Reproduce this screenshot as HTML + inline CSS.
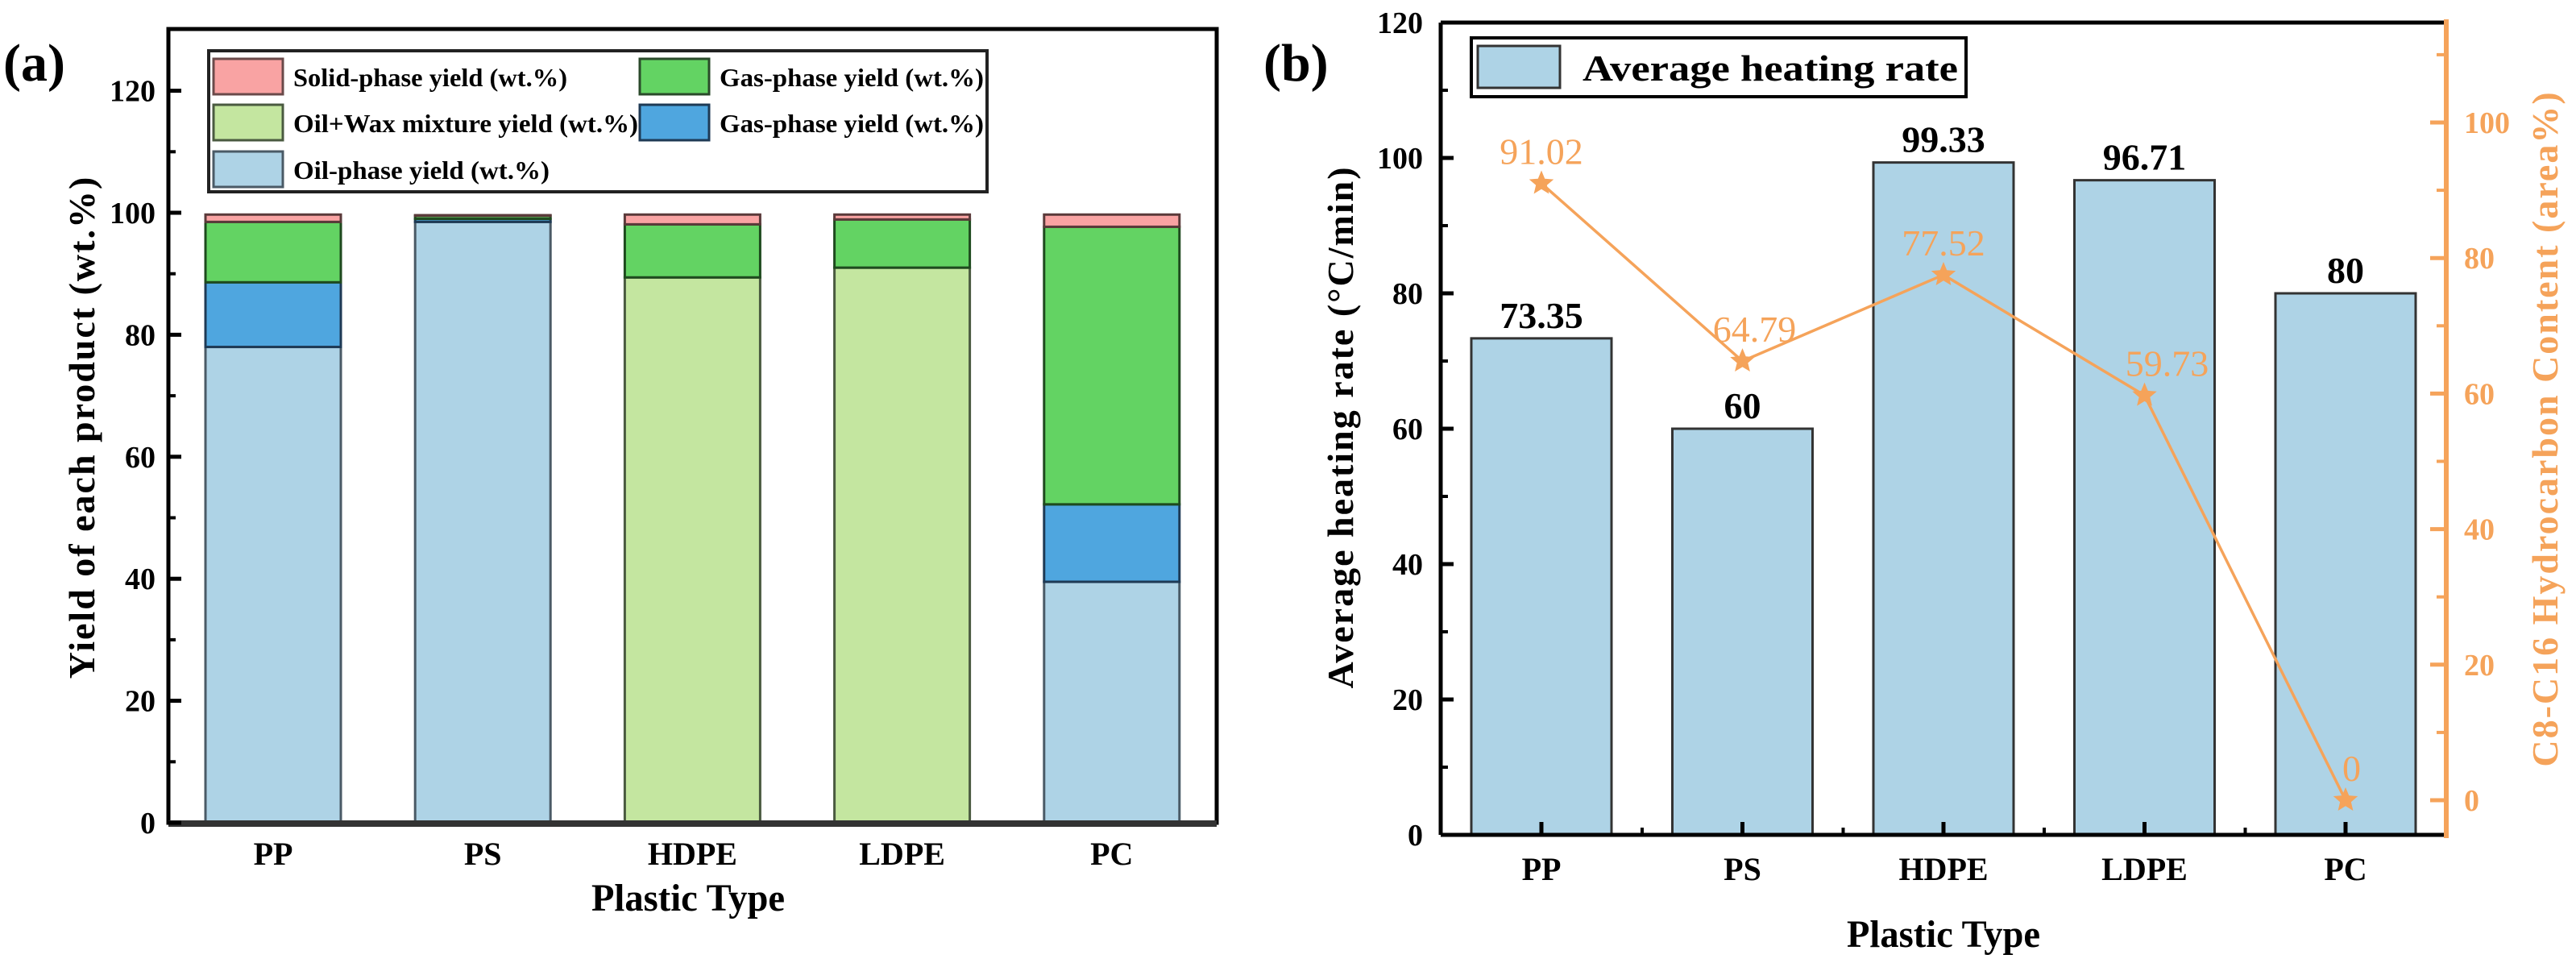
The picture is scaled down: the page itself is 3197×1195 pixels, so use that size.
<!DOCTYPE html>
<html><head><meta charset="utf-8"><style>
html,body{margin:0;padding:0;background:#fff;}
svg{display:block;font-family:"Liberation Serif",serif;font-weight:bold;}
</style></head><body>
<svg id="fig" width="3197" height="1195" viewBox="0 0 3197 1195" xmlns="http://www.w3.org/2000/svg">
<g id="chartA"></g>
<g id="chartB"></g>
</svg>
<script>
// ---- Chart (a) data ----
const catsA = ["PP","PS","HDPE","LDPE","PC"];
const oilPhase = [78.0, 98.5, 0, 0, 39.5];
const oilWax = [0, 0, 89.4, 91.0, 0];
const gasBlue = [10.6, 0.5, 0, 0, 12.7];
const gasGreen = [9.9, 0.5, 8.7, 7.9, 45.5];
const solidPhase = [1.2, 0.1, 1.6, 0.8, 2.0];
const ticksA = [0,20,40,60,80,100,120];
// ---- Chart (b) data ----
const catsB = ["PP","PS","HDPE","LDPE","PC"];
const heatRate = [73.35, 60, 99.33, 96.71, 80];
const heatLabels = ["73.35","60","99.33","96.71","80"];
const c8Content = [91.02, 64.79, 77.52, 59.73, 0];
const c8Labels = ["91.02","64.79","77.52","59.73","0"];
const ticksBL = [0,20,40,60,80,100,120];
const ticksBR = [0,20,40,60,80,100];

const NS="http://www.w3.org/2000/svg";
function mk(parent,tag,attrs,txt){const e=document.createElementNS(NS,tag);for(const k in attrs)e.setAttribute(k,attrs[k]);if(txt!==undefined)e.textContent=txt;parent.appendChild(e);return e;}

// ================= Chart A =================
const A=document.getElementById('chartA');
const aL=209,aR=1510,aT=36,aB=1021;
const yA=v=>aB-(v/100)*757;
const xA=i=>339+i*260.2;
const bwA=168;
// bars
const seriesA=[
 {vals:oilPhase,fill:"#aed3e6",stroke:"#4a5a66",name:"oil-phase"},
 {vals:oilWax,fill:"#c4e6a0",stroke:"#4a5a40",name:"oil-wax"},
 {vals:gasBlue,fill:"#4fa6df",stroke:"#1e3a55",name:"gas-blue"},
 {vals:gasGreen,fill:"#63d363",stroke:"#1e4a1e",name:"gas-green"},
 {vals:solidPhase,fill:"#f9a3a3",stroke:"#5a3a3a",name:"solid-phase"}];
for(let i=0;i<catsA.length;i++){
 let base=0;
 for(const s of seriesA){
  const v=s.vals[i]; if(v<=0)continue;
  const r=mk(A,'rect',{x:xA(i)-bwA/2,y:yA(base+v),width:bwA,height:yA(base)-yA(base+v),fill:s.fill,stroke:s.stroke,'stroke-width':3});
  
  
  base+=v;
 }
 const t=mk(A,'text',{x:xA(i),y:1073,'font-size':40,'text-anchor':'middle'},catsA[i]);
 
 
}
// frame
mk(A,'rect',{x:aL,y:aT,width:aR-aL,height:aB-aT,fill:'none',stroke:'#000','stroke-width':5});
mk(A,'line',{x1:aL,x2:aR,y1:aB+1,y2:aB+1,stroke:'#333','stroke-width':8});
// y ticks
for(const v of ticksA){
 mk(A,'line',{x1:aL,x2:aL+16,y1:yA(v),y2:yA(v),stroke:'#000','stroke-width':5});
 const t=mk(A,'text',{x:193,y:yA(v)+13,'font-size':38,'text-anchor':'end'},String(v));
 
 
}
for(let v=10;v<=120;v+=20){mk(A,'line',{x1:aL,x2:aL+9,y1:yA(v),y2:yA(v),stroke:'#000','stroke-width':4});}
// titles
let t=mk(A,'text',{x:0,y:0,'font-size':46,'text-anchor':'middle',transform:'translate(117,530) rotate(-90)','letter-spacing':'2'},'Yield of each product (wt.%)');

t=mk(A,'text',{x:854,y:1130,'font-size':48,'text-anchor':'middle',textLength:240,lengthAdjust:'spacingAndGlyphs'},'Plastic Type');

t=mk(A,'text',{x:4,y:100,'font-size':66},'(a)');

// legend
const lg=mk(A,'g',{});

mk(lg,'rect',{x:259,y:63,width:966,height:175,fill:'#fff',stroke:'#222','stroke-width':4});
const legItems=[
 {x:265,y:73,fill:"#f9a3a3",stroke:"#6a4a4a",label:"Solid-phase yield (wt.%)",w:340},
 {x:794,y:73,fill:"#63d363",stroke:"#2a4a2a",label:"Gas-phase yield (wt.%)",w:328},
 {x:265,y:130,fill:"#c4e6a0",stroke:"#4a5a40",label:"Oil+Wax mixture yield (wt.%)",w:428},
 {x:794,y:130,fill:"#4fa6df",stroke:"#1e3a55",label:"Gas-phase yield (wt.%)",w:328},
 {x:265,y:188,fill:"#aed3e6",stroke:"#4a5a66",label:"Oil-phase yield (wt.%)",w:318}];
for(const it of legItems){
 const e=mk(lg,'g',{});
 
 
 mk(e,'rect',{x:it.x,y:it.y,width:86,height:44,fill:it.fill,stroke:it.stroke,'stroke-width':3});
 mk(e,'text',{x:it.x+99,y:it.y+34,'font-size':32,textLength:it.w,lengthAdjust:'spacingAndGlyphs'},it.label);
}

// ================= Chart B =================
const B=document.getElementById('chartB');
const bL=1788,bR=3036,bT=28,bB=1036;
const yBL=v=>bB-v*8.4;
const yBR=v=>993-v*8.41;
const xB=i=>1913+i*249.5;
const bwB=174;
for(let i=0;i<catsB.length;i++){
 const r=mk(B,'rect',{x:xB(i)-bwB/2,y:yBL(heatRate[i]),width:bwB,height:bB-yBL(heatRate[i]),fill:'#aed3e6',stroke:'#333','stroke-width':3});
 
 
 const l=mk(B,'text',{x:xB(i),y:yBL(heatRate[i])-13,'font-size':46,'text-anchor':'middle'},heatLabels[i]);
 
 
 const c=mk(B,'text',{x:xB(i),y:1092,'font-size':40,'text-anchor':'middle'},catsB[i]);
 
 
}
// line
let pts=c8Content.map((v,i)=>xB(i)+','+yBR(v)).join(' ');
const pl=mk(B,'polyline',{points:pts,fill:'none',stroke:'#f5a35a','stroke-width':3.5});


function star(cx,cy,r){let s='';for(let k=0;k<10;k++){const a=-Math.PI/2+k*Math.PI/5;const rr=k%2?r*0.45:r;s+=(cx+rr*Math.cos(a))+','+(cy+rr*Math.sin(a))+' ';}return s;}
for(let i=0;i<c8Content.length;i++){
 const s=mk(B,'polygon',{points:star(xB(i),yBR(c8Content[i]),16),fill:'#f5a35a'});
 
 
 const l=mk(B,'text',{x:xB(i)+(i==4?5:i==3?28:i==1?15:0),y:yBR(c8Content[i])-24,'font-size':46,'font-weight':'normal','text-anchor':i==4?'start':'middle',fill:'#f5a35a'},c8Labels[i]);
 if(i==4){l.setAttribute('x',xB(i)-4);}
 
 
}
// frame
mk(B,'line',{x1:bL,x2:bR,y1:bT,y2:bT,stroke:'#000','stroke-width':5});
mk(B,'line',{x1:bL,x2:bL,y1:bT,y2:bB,stroke:'#000','stroke-width':5});
mk(B,'line',{x1:bL,x2:bR,y1:bB,y2:bB,stroke:'#000','stroke-width':5});
mk(B,'line',{x1:bR,x2:bR,y1:bT-4,y2:bB+4,stroke:'#f5a35a','stroke-width':6});
for(const v of ticksBL){
 mk(B,'line',{x1:bL,x2:bL+16,y1:yBL(v),y2:yBL(v),stroke:'#000','stroke-width':5});
 const l=mk(B,'text',{x:1766,y:yBL(v)+13,'font-size':38,'text-anchor':'end'},String(v));
 
 
}
for(let v=10;v<120;v+=20){mk(B,'line',{x1:bL,x2:bL+9,y1:yBL(v),y2:yBL(v),stroke:'#000','stroke-width':4});}
for(let i=0;i<5;i++){mk(B,'line',{x1:xB(i),x2:xB(i),y1:bB,y2:bB-16,stroke:'#000','stroke-width':5});
 if(i<4)mk(B,'line',{x1:xB(i)+125,x2:xB(i)+125,y1:bB,y2:bB-9,stroke:'#000','stroke-width':4});}
for(const v of ticksBR){
 mk(B,'line',{x1:bR,x2:bR-20,y1:yBR(v),y2:yBR(v),stroke:'#f5a35a','stroke-width':5});
 const l=mk(B,'text',{x:3058,y:yBR(v)+13,'font-size':38,fill:'#f5a35a'},String(v));
 
 
}
for(let v=10;v<=110;v+=20){mk(B,'line',{x1:bR,x2:bR-12,y1:yBR(v),y2:yBR(v),stroke:'#f5a35a','stroke-width':4});}
t=mk(B,'text',{x:0,y:0,'font-size':46,'text-anchor':'middle',transform:'translate(1679,530) rotate(-90)','letter-spacing':'2'},'Average heating rate (°C/min)');

t=mk(B,'text',{x:0,y:0,'font-size':46,'text-anchor':'middle',fill:'#f5a35a',transform:'translate(3174,532) rotate(-90)','letter-spacing':'2'},'C8-C16 Hydrocarbon Content (area%)');

t=mk(B,'text',{x:2412,y:1175,'font-size':48,'text-anchor':'middle',textLength:240,lengthAdjust:'spacingAndGlyphs'},'Plastic Type');

t=mk(B,'text',{x:1568,y:100,'font-size':66},'(b)');

const lb=mk(B,'g',{});

mk(lb,'rect',{x:1826,y:47,width:614,height:73,fill:'#fff',stroke:'#000','stroke-width':4});
mk(lb,'rect',{x:1834,y:57,width:102,height:52,fill:'#aed3e6',stroke:'#333','stroke-width':3});
mk(lb,'text',{x:1964,y:100,'font-size':46,textLength:466,lengthAdjust:'spacingAndGlyphs'},'Average heating rate');
</script>
</body></html>
